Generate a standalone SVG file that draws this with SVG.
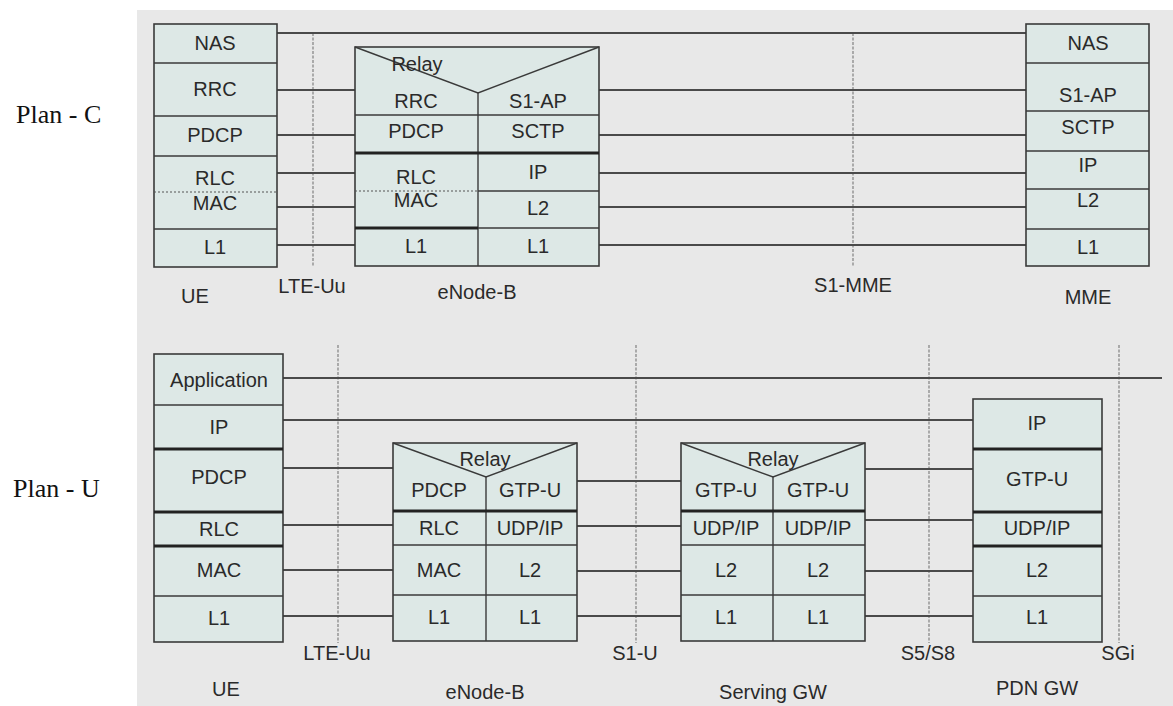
<svg xmlns="http://www.w3.org/2000/svg" width="1173" height="706" viewBox="0 0 1173 706">
<style>
.bg{fill:#e8e8e8}
.box{fill:#dde8e6;stroke:#3a3a3a;stroke-width:1.6}
.sep{stroke:#3a3a3a;stroke-width:1.4;fill:none}
.thick{stroke:#222;stroke-width:3;fill:none}
.dot{stroke:#555;stroke-width:1;stroke-dasharray:2,2;fill:none}
.conn{stroke:#4a4a4a;stroke-width:1.8;fill:none}
.iface{stroke:#9a9a9a;stroke-width:1.6;stroke-dasharray:3,1.5;fill:none}
.t{font-family:"Liberation Sans",Arial,sans-serif;font-size:20px;fill:#2a2a2a;text-anchor:middle;dominant-baseline:central}
.plan{font-family:"Liberation Serif","Times New Roman",serif;font-size:26px;fill:#111}
</style>
<rect x="0" y="0" width="1173" height="706" fill="#ffffff"/>
<rect class="bg" x="137" y="10" width="1036" height="696"/>
<text class="plan" x="16" y="123">Plan - C</text>
<text class="plan" x="13" y="497">Plan - U</text>

<g id="connectors">
<line class="iface" x1="313" y1="33" x2="313" y2="267"/>
<line class="iface" x1="853" y1="33" x2="853" y2="267"/>
<line class="iface" x1="338" y1="345" x2="338" y2="643"/>
<line class="iface" x1="636" y1="345" x2="636" y2="643"/>
<line class="iface" x1="929" y1="345" x2="929" y2="643"/>
<line class="iface" x1="1119" y1="345" x2="1119" y2="643"/>
<line class="conn" x1="277" y1="33" x2="1026" y2="33"/>
<line class="conn" x1="277" y1="90" x2="355" y2="90"/>
<line class="conn" x1="599" y1="90" x2="1026" y2="90"/>
<line class="conn" x1="277" y1="135" x2="355" y2="135"/>
<line class="conn" x1="599" y1="135" x2="1026" y2="135"/>
<line class="conn" x1="277" y1="173" x2="355" y2="173"/>
<line class="conn" x1="599" y1="173" x2="1026" y2="173"/>
<line class="conn" x1="277" y1="207" x2="355" y2="207"/>
<line class="conn" x1="599" y1="207" x2="1026" y2="207"/>
<line class="conn" x1="277" y1="245" x2="355" y2="245"/>
<line class="conn" x1="599" y1="245" x2="1026" y2="245"/>
<line class="conn" x1="283" y1="378" x2="1162" y2="378"/>
<line class="conn" x1="283" y1="420" x2="973" y2="420"/>
<line class="conn" x1="283" y1="468" x2="393" y2="468"/>
<line class="conn" x1="283" y1="525" x2="393" y2="525"/>
<line class="conn" x1="283" y1="570" x2="393" y2="570"/>
<line class="conn" x1="283" y1="616" x2="393" y2="616"/>
<line class="conn" x1="577" y1="481" x2="681" y2="481"/>
<line class="conn" x1="577" y1="526" x2="681" y2="526"/>
<line class="conn" x1="577" y1="571" x2="681" y2="571"/>
<line class="conn" x1="577" y1="616" x2="681" y2="616"/>
<line class="conn" x1="865" y1="469" x2="973" y2="469"/>
<line class="conn" x1="865" y1="520" x2="973" y2="520"/>
<line class="conn" x1="865" y1="571" x2="973" y2="571"/>
<line class="conn" x1="865" y1="616" x2="973" y2="616"/>
</g>

<g id="ue-c">
<rect class="box" x="154" y="24" width="123" height="243"/>
<line class="sep" x1="154" y1="63" x2="277" y2="63"/>
<line class="sep" x1="154" y1="116" x2="277" y2="116"/>
<line class="sep" x1="154" y1="156" x2="277" y2="156"/>
<line class="dot" x1="154" y1="192" x2="277" y2="192"/>
<line class="sep" x1="154" y1="229" x2="277" y2="229"/>
<text class="t" x="215" y="43">NAS</text>
<text class="t" x="215" y="89">RRC</text>
<text class="t" x="215" y="135">PDCP</text>
<text class="t" x="215" y="178">RLC</text>
<text class="t" x="215" y="203">MAC</text>
<text class="t" x="215" y="247">L1</text>
<text class="t" x="195" y="296">UE</text>
<text class="t" x="312" y="286">LTE-Uu</text>
</g>

<g id="enb-c">
<rect class="box" x="355" y="47" width="244" height="219"/>
<polyline class="sep" points="355,47 478,93 599,47"/>
<line class="sep" x1="478" y1="93" x2="478" y2="266"/>
<line class="sep" x1="355" y1="115" x2="599" y2="115"/>
<line class="thick" x1="355" y1="153" x2="599" y2="153"/>
<line class="dot" x1="355" y1="191" x2="478" y2="191"/>
<line class="sep" x1="478" y1="191" x2="599" y2="191"/>
<line class="thick" x1="355" y1="228" x2="478" y2="228"/>
<line class="sep" x1="478" y1="228" x2="599" y2="228"/>
<text class="t" x="417" y="64">Relay</text>
<text class="t" x="416" y="101">RRC</text>
<text class="t" x="538" y="101">S1-AP</text>
<text class="t" x="416" y="131">PDCP</text>
<text class="t" x="538" y="131">SCTP</text>
<text class="t" x="416" y="177">RLC</text>
<text class="t" x="416" y="200">MAC</text>
<text class="t" x="538" y="172">IP</text>
<text class="t" x="538" y="208">L2</text>
<text class="t" x="416" y="246">L1</text>
<text class="t" x="538" y="246">L1</text>
<text class="t" x="477" y="292">eNode-B</text>
<text class="t" x="853" y="285">S1-MME</text>
</g>

<g id="mme">
<rect class="box" x="1026" y="24" width="123" height="242"/>
<line class="sep" x1="1026" y1="63" x2="1149" y2="63"/>
<line class="sep" x1="1026" y1="111" x2="1149" y2="111"/>
<line class="sep" x1="1026" y1="151" x2="1149" y2="151"/>
<line class="sep" x1="1026" y1="189" x2="1149" y2="189"/>
<line class="sep" x1="1026" y1="229" x2="1149" y2="229"/>
<text class="t" x="1088" y="43">NAS</text>
<text class="t" x="1088" y="95">S1-AP</text>
<text class="t" x="1088" y="127">SCTP</text>
<text class="t" x="1088" y="165">IP</text>
<text class="t" x="1088" y="200">L2</text>
<text class="t" x="1088" y="247">L1</text>
<text class="t" x="1088" y="297">MME</text>
</g>

<g id="ue-u">
<rect class="box" x="154" y="354" width="129" height="288"/>
<line class="sep" x1="154" y1="405" x2="283" y2="405"/>
<line class="thick" x1="154" y1="449" x2="283" y2="449"/>
<line class="thick" x1="154" y1="512" x2="283" y2="512"/>
<line class="thick" x1="154" y1="546" x2="283" y2="546"/>
<line class="sep" x1="154" y1="596" x2="283" y2="596"/>
<text class="t" x="219" y="380">Application</text>
<text class="t" x="219" y="427">IP</text>
<text class="t" x="219" y="477">PDCP</text>
<text class="t" x="219" y="529">RLC</text>
<text class="t" x="219" y="570">MAC</text>
<text class="t" x="219" y="618">L1</text>
<text class="t" x="226" y="689">UE</text>
<text class="t" x="337" y="653">LTE-Uu</text>
</g>

<g id="enb-u">
<rect class="box" x="393" y="443" width="184" height="198"/>
<polyline class="sep" points="393,443 486,477 577,443"/>
<line class="sep" x1="486" y1="477" x2="486" y2="641"/>
<line class="thick" x1="393" y1="511" x2="577" y2="511"/>
<line class="sep" x1="393" y1="545" x2="577" y2="545"/>
<line class="sep" x1="393" y1="595" x2="577" y2="595"/>
<text class="t" x="485" y="459">Relay</text>
<text class="t" x="439" y="490">PDCP</text>
<text class="t" x="530" y="490">GTP-U</text>
<text class="t" x="439" y="528">RLC</text>
<text class="t" x="530" y="528">UDP/IP</text>
<text class="t" x="439" y="570">MAC</text>
<text class="t" x="530" y="570">L2</text>
<text class="t" x="439" y="617">L1</text>
<text class="t" x="530" y="617">L1</text>
<text class="t" x="485" y="692">eNode-B</text>
<text class="t" x="635" y="653">S1-U</text>
</g>

<g id="sgw">
<rect class="box" x="681" y="443" width="184" height="198"/>
<polyline class="sep" points="681,443 773,477 865,443"/>
<line class="sep" x1="773" y1="477" x2="773" y2="641"/>
<line class="thick" x1="681" y1="511" x2="865" y2="511"/>
<line class="sep" x1="681" y1="545" x2="865" y2="545"/>
<line class="sep" x1="681" y1="595" x2="865" y2="595"/>
<text class="t" x="773" y="459">Relay</text>
<text class="t" x="726" y="490">GTP-U</text>
<text class="t" x="818" y="490">GTP-U</text>
<text class="t" x="726" y="528">UDP/IP</text>
<text class="t" x="818" y="528">UDP/IP</text>
<text class="t" x="726" y="570">L2</text>
<text class="t" x="818" y="570">L2</text>
<text class="t" x="726" y="617">L1</text>
<text class="t" x="818" y="617">L1</text>
<text class="t" x="773" y="692">Serving GW</text>
<text class="t" x="928" y="653">S5/S8</text>
</g>

<g id="pdngw">
<rect class="box" x="973" y="399" width="129" height="243"/>
<line class="thick" x1="973" y1="449" x2="1102" y2="449"/>
<line class="thick" x1="973" y1="512" x2="1102" y2="512"/>
<line class="thick" x1="973" y1="546" x2="1102" y2="546"/>
<line class="sep" x1="973" y1="596" x2="1102" y2="596"/>
<text class="t" x="1037" y="423">IP</text>
<text class="t" x="1037" y="479">GTP-U</text>
<text class="t" x="1037" y="528">UDP/IP</text>
<text class="t" x="1037" y="570">L2</text>
<text class="t" x="1037" y="617">L1</text>
<text class="t" x="1037" y="688">PDN GW</text>
<text class="t" x="1118" y="653">SGi</text>
</g>
</svg>
